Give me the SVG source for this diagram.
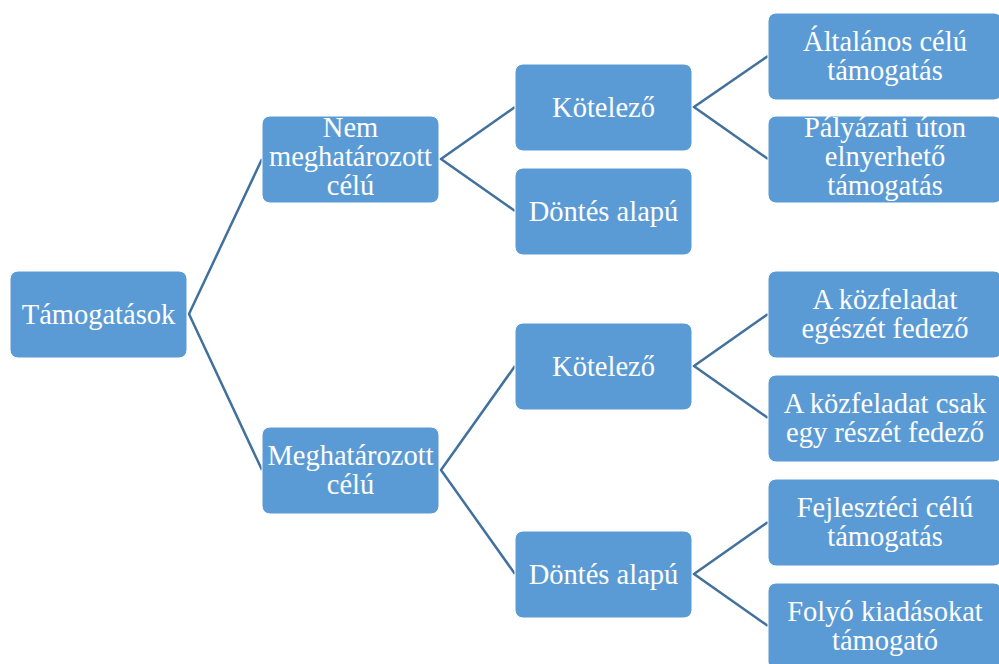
<svg xmlns="http://www.w3.org/2000/svg" width="999" height="664" viewBox="0 0 999 664">
<style>
.box{fill:#5b9bd5;stroke:#ffffff;stroke-width:1}
.t{font-family:"Liberation Serif","Times New Roman",serif;font-size:28.5px;fill:#ffffff;text-anchor:middle}
.c{stroke:#41719c;stroke-width:2.5;fill:none}
</style>
<rect width="999" height="664" fill="#ffffff"/>
<g id="connectors">
<polyline class="c" points="262,159 189,314 262,470"/>
<polyline class="c" points="515,107 441,159 515,211"/>
<polyline class="c" points="515,366 441,470 515,574"/>
<polyline class="c" points="768,56 694,107 768,159"/>
<polyline class="c" points="768,314 694,366 768,418"/>
<polyline class="c" points="768,522 694,574 768,626"/>
</g>
<g id="n-root"><rect class="box" x="10" y="271" width="177" height="87" rx="8"/><text class="t" x="98.5" y="324">Támogatások</text></g>
<g id="n-nem"><rect class="box" x="262" y="116" width="177" height="87" rx="8"/><text class="t" x="350.5" y="137">Nem</text><text class="t" x="350.5" y="166">meghatározott</text><text class="t" x="350.5" y="195">célú</text></g>
<g id="n-megh"><rect class="box" x="262" y="427" width="177" height="87" rx="8"/><text class="t" x="350.5" y="465">Meghatározott</text><text class="t" x="350.5" y="494">célú</text></g>
<g id="n-kot1"><rect class="box" x="515" y="64" width="177" height="87" rx="8"/><text class="t" x="603.5" y="117">Kötelező</text></g>
<g id="n-dont1"><rect class="box" x="515" y="168" width="177" height="87" rx="8"/><text class="t" x="603.5" y="221">Döntés alapú</text></g>
<g id="n-kot2"><rect class="box" x="515" y="323" width="177" height="87" rx="8"/><text class="t" x="603.5" y="376">Kötelező</text></g>
<g id="n-dont2"><rect class="box" x="515" y="531" width="177" height="87" rx="8"/><text class="t" x="603.5" y="584">Döntés alapú</text></g>
<g id="n-alt"><rect class="box" x="768" y="13" width="234" height="87" rx="8"/><text class="t" x="885" y="51">Általános célú</text><text class="t" x="885" y="80">támogatás</text></g>
<g id="n-paly"><rect class="box" x="768" y="116" width="234" height="87" rx="8"/><text class="t" x="885" y="137">Pályázati úton</text><text class="t" x="885" y="166">elnyerhető</text><text class="t" x="885" y="195">támogatás</text></g>
<g id="n-egesz"><rect class="box" x="768" y="271" width="234" height="87" rx="8"/><text class="t" x="885" y="309">A közfeladat</text><text class="t" x="885" y="338">egészét fedező</text></g>
<g id="n-resz"><rect class="box" x="768" y="375" width="234" height="87" rx="8"/><text class="t" x="885" y="413">A közfeladat csak</text><text class="t" x="885" y="442">egy részét fedező</text></g>
<g id="n-fejl"><rect class="box" x="768" y="479" width="234" height="87" rx="8"/><text class="t" x="885" y="517">Fejlesztéci célú</text><text class="t" x="885" y="546">támogatás</text></g>
<g id="n-foly"><rect class="box" x="768" y="583" width="234" height="87" rx="8"/><text class="t" x="885" y="621">Folyó kiadásokat</text><text class="t" x="885" y="650">támogató</text></g>
</svg>
